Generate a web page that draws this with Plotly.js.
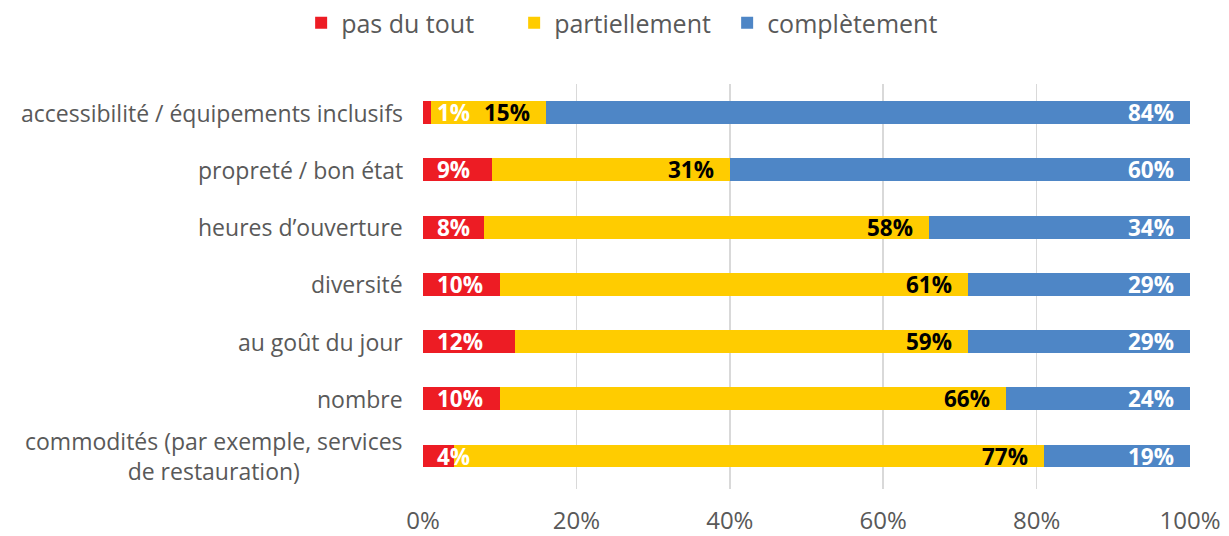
<!DOCTYPE html>
<html>
<head>
<meta charset="utf-8">
<script src="https://cdn.plot.ly/plotly-3.0.1.min.js"></script>
<style>
  html, body { margin: 0; padding: 0; background: #ffffff; }
  #chart { width: 1229px; height: 536px; }
</style>
</head>
<body>
<div id="chart"></div>
<script>
// ---- data ----
var categories = [
  "accessibilité / équipements inclusifs",
  "propreté / bon état",
  "heures d’ouverture",
  "diversité",
  "au goût du jour",
  "nombre",
  "commodités (par exemple, services<br>de restauration)"
];
var seriesNames = ["pas du tout", "partiellement", "complètement"];
var pasDuTout     = [1, 9, 8, 10, 12, 10, 4];
var partiellement = [15, 31, 58, 61, 59, 66, 77];
var completement  = [84, 60, 34, 29, 29, 24, 19];
var xTicks = [0, 20, 40, 60, 80, 100];

// ---- style ----
var colors = ["#ED1C24", "#FFCC00", "#4E86C6"];
var labelColors = ["#FFFFFF", "#000000", "#FFFFFF"];
var FONT = "Open Sans, Liberation Sans, sans-serif";
var GREY = "#595959";
var CAT_SIZE = 23;
var VAL_SIZE = 22.5;

var values = [pasDuTout, partiellement, completement];
var traces = values.map(function (v, i) {
  return {
    type: "bar",
    orientation: "h",
    name: seriesNames[i],
    x: v,
    y: categories,
    marker: { color: colors[i], line: { width: 0 } },
    hoverinfo: "x+y+name"
  };
});

var annotations = [];
// category labels (centred multi-line, right-aligned block)
categories.forEach(function (c) {
  annotations.push({
    xref: "paper", yref: "y", x: 0, y: c, text: c,
    xanchor: "right", yanchor: "middle", align: "center",
    xshift: -18, showarrow: false,
    font: { family: FONT, size: CAT_SIZE, color: GREY }
  });
});
// value labels
categories.forEach(function (c, k) {
  // red: anchored at bar base
  annotations.push({
    xref: "x", yref: "y", x: 0, y: c, text: "<b>" + pasDuTout[k] + "%</b>",
    xanchor: "left", yanchor: "middle", xshift: 12, showarrow: false,
    font: { family: FONT, size: VAL_SIZE, color: labelColors[0] }
  });
  var endYellow = pasDuTout[k] + partiellement[k];
  annotations.push({
    xref: "x", yref: "y", x: endYellow, y: c, text: "<b>" + partiellement[k] + "%</b>",
    xanchor: "right", yanchor: "middle", xshift: -14, showarrow: false,
    font: { family: FONT, size: VAL_SIZE, color: labelColors[1] }
  });
  var endBlue = endYellow + completement[k];
  annotations.push({
    xref: "x", yref: "y", x: endBlue, y: c, text: "<b>" + completement[k] + "%</b>",
    xanchor: "right", yanchor: "middle", xshift: -14, showarrow: false,
    font: { family: FONT, size: VAL_SIZE, color: labelColors[2] }
  });
});

var layout = {
  width: 1229,
  height: 536,
  margin: { l: 423, r: 39, t: 84, b: 47 },
  paper_bgcolor: "#ffffff",
  plot_bgcolor: "#ffffff",
  barmode: "stack",
  bargap: 0.6,
  font: { family: FONT, color: GREY },
  showlegend: true,
  legend: {
    orientation: "h",
    xref: "container", yref: "container",
    x: 0.505, xanchor: "center",
    y: 1.0, yanchor: "top",
    traceorder: "normal",
    entrywidth: 168,
    entrywidthmode: "pixels",
    font: { family: FONT, size: 25, color: GREY },
    itemclick: false
  },
  xaxis: {
    range: [0, 100],
    tickvals: xTicks,
    ticktext: xTicks.map(function (t) { return t + "%"; }),
    showgrid: true,
    gridcolor: "#D9D9D9",
    gridwidth: 1.5,
    zeroline: false,
    showline: false,
    ticks: "",
    ticklabelstandoff: 15,
    tickfont: { family: FONT, size: 24, color: GREY },
    fixedrange: true
  },
  yaxis: {
    type: "category",
    autorange: "reversed",
    showticklabels: false,
    showgrid: false,
    zeroline: false,
    showline: false,
    ticks: "",
    fixedrange: true
  },
  annotations: annotations
};

Plotly.newPlot("chart", traces, layout, { displayModeBar: false, staticPlot: true });
</script>
</body>
</html>
